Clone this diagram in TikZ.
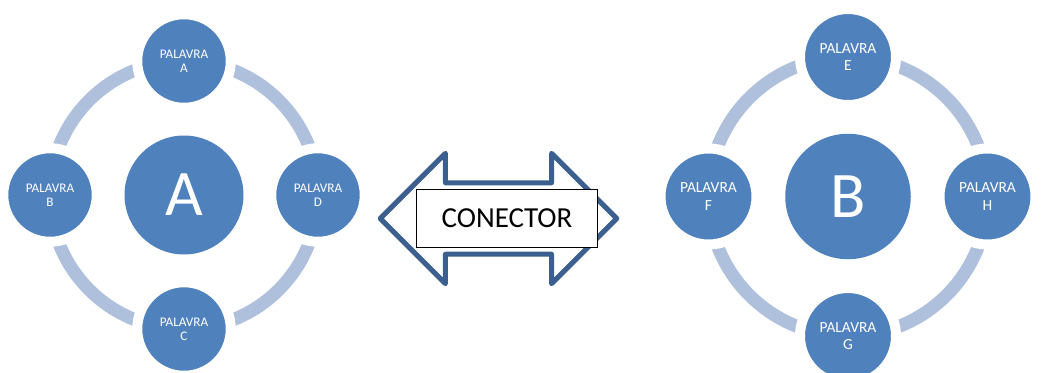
\documentclass[tikz,border=0pt]{standalone}
\usepackage{fontspec}
\setmainfont{Carlito}
\usetikzlibrary{positioning, shapes.arrows}

\definecolor{palblue}{HTML}{4F81BD}
\definecolor{ringblue}{HTML}{AFC0DC}
\definecolor{arrowblue}{HTML}{3B6090}

\begin{document}
\begin{tikzpicture}[node distance=2.68cm,
        hub node/.style={circle,fill=palblue,text=white,inner sep=0pt,minimum size=2.38cm,font=\fontsize{37}{40}\selectfont},
        word node/.style={circle,fill=palblue,draw=white,line width=0.2cm,text=white,inner sep=0pt,minimum size=1.87cm,align=center,font=\fontsize{7.5}{7.8}\selectfont},
        ring/.style={draw=ringblue,line width=0.26cm},
        con node/.style={draw=black,fill=white,line width=0.6pt,minimum width=3.62cm,minimum height=1.16cm,font=\fontsize{16.5}{20}\selectfont}]
    \useasboundingbox (0,0) rectangle (20.98,-7.44);

    % left group
    \node[hub node] (A) at (3.68,-3.90) {A};
    \draw[ring] (A.center) circle[radius=2.68cm];
    \node[word node] (palA) [above of=A] {PALAVRA\\A};
    \node[word node] (palB) [left of=A] {PALAVRA\\B};
    \node[word node] (palC) [below of=A] {PALAVRA\\C};
    \node[word node] (palD) [right of=A] {PALAVRA\\D};

    % right group, a bit larger
    \begin{scope}[node distance=2.79cm,
            hub node/.append style={minimum size=2.51cm},
            word node/.append style={minimum size=1.92cm,font=\fontsize{8.8}{9.8}\selectfont}]
        \node[hub node] (B) at (16.96,-3.93) {B};
        \draw[ring] (B.center) circle[radius=2.79cm];
        \node[word node] (palE) [above of=B] {PALAVRA\\E};
        \node[word node] (palF) [left of=B] {PALAVRA\\F};
        \node[word node] (palG) [below of=B] {PALAVRA\\G};
        \node[word node] (palH) [right of=B] {PALAVRA\\H};
    \end{scope}

    % connector in the middle
    \node[double arrow,draw=arrowblue,line width=0.1cm,line join=round,
          inner xsep=0pt,inner ysep=0.664cm,minimum height=4.73cm,
          double arrow tip angle=90,double arrow head extend=0.59cm] (seta) at (9.97,-4.37) {};
    \node[con node] (con) at (10.14,-4.37) {CONECTOR};
\end{tikzpicture}
\end{document}
